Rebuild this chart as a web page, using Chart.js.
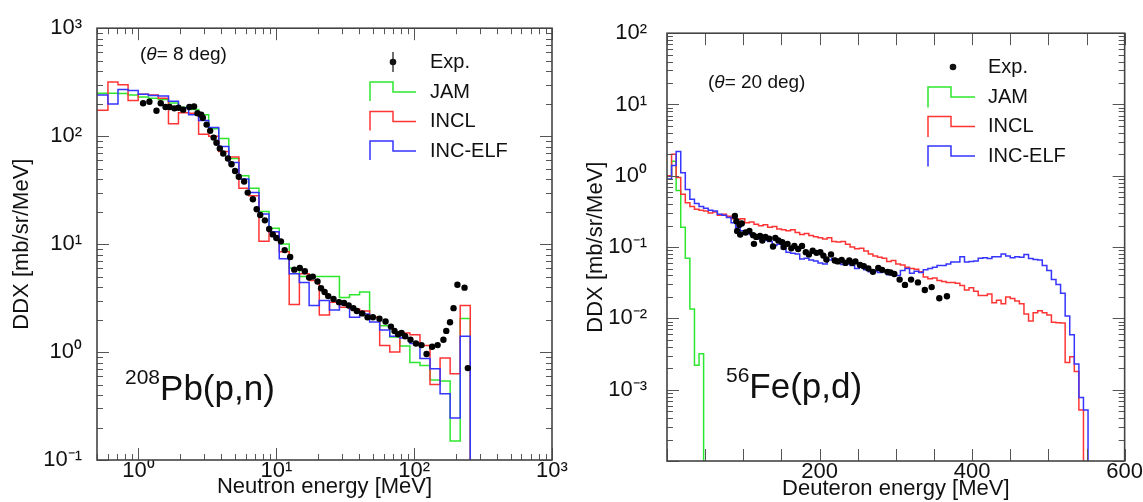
<!DOCTYPE html>
<html>
<head>
<meta charset="utf-8">
<script src="https://cdn.jsdelivr.net/npm/chart.js@4.4.1/dist/chart.umd.min.js"></script>
<style>
  html, body { margin: 0; padding: 0; background: #fff; }
  #wrap { position: relative; width: 1143px; height: 502px; }
  canvas { position: absolute; top: 0; }
</style>
</head>
<body>
<div id="wrap">
  <canvas id="pb" width="575" height="502" style="left:0"></canvas>
  <canvas id="fe" width="568" height="502" style="left:575px"></canvas>
</div>
<script>
const FONT = '"Liberation Sans", Arial, Helvetica, sans-serif';
const GREEN = '#2ee62e', RED = '#ff3535', BLUE = '#3535ff';
const FLOOR = 1e-9; // below the axis: closes the last bin

// ---- 208Pb(p,n), theta = 8 deg : bin edges [MeV] and DDX [mb/sr/MeV] ----
const pbEdges = [0.43, 0.51, 0.60, 0.71, 0.84, 0.995, 1.18, 1.39, 1.65, 1.95, 2.31, 2.73, 3.23,
  3.82, 4.52, 5.35, 6.32, 7.48, 8.85, 10.5, 12.4, 14.7, 17.3, 20.5, 24.3, 28.7, 34.0,
  40.2, 47.5, 56.2, 66.5, 78.7, 93.1, 110.2, 130.3, 154.2, 182.4, 215.8, 255.3];
const pbJAM = [250, 250, 250, 248, 240, 230, 225, 218, 203, 185, 177, 158, 117, 95, 62, 43, 33, 20, 14, 10,
  6.0, 5.0, 5.0, 5.0, 5.0, 3.2, 3.4, 3.6, 2.1, 1.75, 1.38, 1.14, 0.8, 0.75, 0.55, 0.54, 0.15, 2.05];
const pbINCL = [174, 174, 318, 300, 214, 245, 240, 225, 130, 165, 163, 104, 100, 72, 64, 33, 28, 10.6, 13, 8.5,
  2.75, 5.3, 4.6, 2.2, 2.9, 2.6, 2.5, 2.4, 2.1, 1.15, 1.0, 1.5, 1.45, 1.15, 0.5, 0.88, 0.63, 2.7];
const pbELF = [240, 240, 198, 270, 265, 245, 238, 236, 210, 183, 158, 140, 120, 80, 57, 40, 30, 19, 13, 7.3,
  5.3, 4.4, 2.7, 3.0, 2.45, 2.75, 2.1, 2.25, 1.9, 1.6, 1.4, 1.35, 1.2, 0.87, 0.70, 0.41, 0.245, 1.4];
const pbExpE = [1.08, 1.20, 1.35, 1.45, 1.57, 1.68, 1.82, 1.95, 2.11, 2.34, 2.53, 2.68, 2.85, 2.93, 3.12, 3.31,
  3.51, 3.68, 3.89, 4.12, 4.46, 4.73, 5.02, 5.34, 5.84, 6.2, 6.76, 7.2, 7.64, 8.26, 8.88, 9.42, 10.0, 10.8,
  11.5, 12.6, 13.5, 14.8, 16.1, 17.3, 18.4, 19.9, 21.1, 22.4, 23.8, 26.0, 28.5, 31.0, 33.5, 36.2, 38.4, 42.0,
  45.9, 50.2, 56, 62, 67.8, 72, 76.4, 81, 86, 94, 103, 113, 123, 135, 148, 163, 171, 182, 193, 206, 232, 245];
const pbExpV = [202, 208, 172, 202, 186, 186, 181, 183, 176, 186, 188, 163, 158, 148, 128, 112, 97, 87, 77, 69,
  62, 55, 47.5, 42, 38, 30, 26, 21, 18.6, 16.6, 13.8, 12.3, 11.4, 10.6, 8.8, 7.6, 5.8, 6.0, 5.6, 4.9, 5.0, 4.5,
  3.9, 3.6, 3.3, 3.1, 2.9, 2.85, 2.7, 2.55, 2.4, 2.28, 2.1, 2.1, 2.04, 1.92, 1.72, 1.57, 1.46, 1.5, 1.4, 1.3,
  1.2, 1.16, 0.96, 1.12, 1.16, 1.3, 1.57, 1.89, 2.55, 4.2, 3.95, 0.71];
const pbXTicks = [1, 10, 100, 1000];
const pbYTicks = [0.1, 1, 10, 100, 1000];

// ---- 56Fe(p,d), theta = 20 deg ----
const feEdges = [0, 6, 12, 18, 24, 30, 36, 42, 48, 54, 60, 66, 72, 78, 84, 90, 96, 102, 108, 114, 120, 126,
  132, 138, 144, 150, 156, 162, 168, 174, 180, 186, 192, 198, 204, 210, 216, 222, 228, 234, 240, 246, 252,
  258, 264, 270, 276, 282, 288, 294, 300, 306, 312, 318, 324, 330, 336, 342, 348, 354, 360, 366, 372, 378,
  384, 390, 396, 402, 408, 414, 420, 426, 432, 438, 444, 450, 456, 462, 468, 474, 480, 486, 492, 498, 504,
  510, 516, 522, 528, 534, 540, 546, 552];
const feJAM = [1.0, 1.6, 0.62, 0.19, 0.07, 0.0135, 0.0022, 0.0032];
const feINCL = [1.0, 2.0, 0.95, 0.55, 0.42, 0.37, 0.34, 0.33, 0.32, 0.30,
  0.31, 0.28, 0.29, 0.27, 0.25, 0.245, 0.25, 0.22, 0.225, 0.21,
  0.20, 0.205, 0.19, 0.195, 0.18, 0.175, 0.17, 0.175, 0.16, 0.15,
  0.155, 0.145, 0.14, 0.135, 0.13, 0.135, 0.12, 0.118, 0.12, 0.11,
  0.10, 0.095, 0.096, 0.088, 0.08, 0.075, 0.072, 0.07, 0.063, 0.065,
  0.058, 0.056, 0.052, 0.05, 0.049, 0.045, 0.038, 0.036, 0.037, 0.034,
  0.033, 0.032, 0.032, 0.031, 0.029, 0.025, 0.027, 0.024, 0.021, 0.021,
  0.022, 0.0166, 0.018, 0.016, 0.02, 0.019, 0.0175, 0.016, 0.0115, 0.0092,
  0.012, 0.0128, 0.012, 0.0112, 0.0088, 0.0087, 0.0086, 0.0024, 0.0029, 0.0018,
  0.00052];
const feELF = [0.9, 1.4, 2.2, 1.1, 0.64, 0.47, 0.41, 0.37, 0.35, 0.33,
  0.32, 0.29, 0.28, 0.26, 0.22, 0.19, 0.17, 0.16, 0.15, 0.14,
  0.13, 0.125, 0.12, 0.105, 0.11, 0.095, 0.085, 0.082, 0.08, 0.068,
  0.07, 0.066, 0.064, 0.06, 0.058, 0.066, 0.069, 0.06, 0.057, 0.058,
  0.055, 0.05, 0.052, 0.048, 0.045, 0.046, 0.044, 0.045, 0.041, 0.043,
  0.04, 0.047, 0.05, 0.043, 0.046, 0.044, 0.048, 0.05, 0.052, 0.055,
  0.055, 0.058, 0.062, 0.062, 0.073, 0.062, 0.063, 0.064, 0.07, 0.071,
  0.069, 0.073, 0.073, 0.08, 0.075, 0.071, 0.073, 0.072, 0.079, 0.069,
  0.067, 0.066, 0.055, 0.047, 0.035, 0.03, 0.0225, 0.0108, 0.0059, 0.0023,
  0.00078, 0.00052];
const feExpE = [89, 91, 92, 95, 96, 98, 103, 108, 113, 114, 117, 122, 125, 129, 134, 139, 142, 146, 151, 153,
  158, 163, 167, 172, 177, 182, 186, 191, 196, 201, 205, 209, 215, 220, 224, 229, 234, 239, 243, 247, 253,
  258, 264, 270, 277, 282, 289, 293, 298, 305, 312, 320, 329, 338, 347, 357, 367];
const feExpV = [0.273, 0.23, 0.168, 0.206, 0.15, 0.215, 0.16, 0.168, 0.147, 0.111, 0.139, 0.143, 0.124, 0.139,
  0.131, 0.102, 0.134, 0.124, 0.117, 0.1, 0.111, 0.096, 0.104, 0.094, 0.104, 0.085, 0.079, 0.089, 0.083, 0.085,
  0.076, 0.067, 0.079, 0.065, 0.063, 0.066, 0.06, 0.065, 0.06, 0.063, 0.056, 0.054, 0.05, 0.045, 0.051, 0.048,
  0.045, 0.044, 0.042, 0.035, 0.0295, 0.035, 0.032, 0.025, 0.0275, 0.0192, 0.0204];
const feXTicks = [200, 400, 600];
const feYTicks = [0.001, 0.01, 0.1, 1, 10, 100];

// histogram: one point per bin at its low edge, closed at the last edge
function hist(edges, vals) {
  const p = vals.map((v, i) => ({x: edges[i], y: v}));
  p.push({x: edges[vals.length], y: FLOOR});
  return p;
}
function points(xs, ys) { return xs.map((x, i) => ({x: x, y: ys[i]})); }

const SUP = {'-': '\u207B', '0': '\u2070', '1': '\u00B9', '2': '\u00B2', '3': '\u00B3'};
function decade(v) {
  const p = Math.round(Math.log10(v));
  return '10' + String(p).split('').map(c => SUP[c]).join('');
}
function logMarks(min, max) {
  const out = [];
  for (let d = Math.floor(Math.log10(min)); d <= Math.ceil(Math.log10(max)); d++) {
    for (let m = 1; m <= 9; m++) {
      const v = m * Math.pow(10, d);
      if (v >= min * 0.999 && v <= max * 1.001) out.push({v: v, major: m === 1});
    }
  }
  return out;
}
function linMarks(min, max, step) {
  const out = [];
  for (let v = min; v <= max; v += step) out.push({v: v, major: true});
  return out;
}

// ROOT-like frame with inner ticks, legend and labels
const decor = {
  id: 'decor',
  afterDraw(chart, args, o) {
    const {ctx, chartArea: a, scales: {x, y}} = chart;
    ctx.save();
    ctx.strokeStyle = '#555';
    ctx.lineWidth = 1;
    ctx.beginPath();
    o.xMarks.forEach(m => {
      const px = Math.round(x.getPixelForValue(m.v)) + 0.5;
      const len = m.major ? o.majorLen : o.minorLen;
      ctx.moveTo(px, a.bottom); ctx.lineTo(px, a.bottom - len);
      ctx.moveTo(px, a.top); ctx.lineTo(px, a.top + len);
    });
    o.yMarks.forEach(m => {
      const py = Math.round(y.getPixelForValue(m.v)) + 0.5;
      const len = m.major ? o.majorLen : o.minorLen;
      ctx.moveTo(a.left, py); ctx.lineTo(a.left + len, py);
      ctx.moveTo(a.right, py); ctx.lineTo(a.right - len, py);
    });
    ctx.stroke();
    ctx.lineWidth = 1.6;
    ctx.strokeStyle = '#444';
    ctx.strokeRect(a.left, a.top, a.right - a.left, a.bottom - a.top);

    ctx.fillStyle = '#111';
    ctx.textBaseline = 'middle';
    // (theta= N deg)
    let tx = o.theta.x;
    ctx.font = '19px ' + FONT;
    ctx.fillText('(', tx, o.theta.y); tx += ctx.measureText('(').width;
    ctx.font = 'italic 19px ' + FONT;
    ctx.fillText('\u03B8', tx, o.theta.y); tx += ctx.measureText('\u03B8').width;
    ctx.font = '19px ' + FONT;
    ctx.fillText('= ' + o.theta.deg + ' deg)', tx, o.theta.y);

    // reaction
    ctx.textBaseline = 'alphabetic';
    let rx = o.reaction.x;
    ctx.font = '21px ' + FONT;
    ctx.fillText(o.reaction.mass, rx, o.reaction.y - 16); rx += ctx.measureText(o.reaction.mass).width;
    ctx.font = '35px ' + FONT;
    ctx.fillText(o.reaction.rest, rx, o.reaction.y);

    // legend
    const L = o.legend;
    ctx.textBaseline = 'middle';
    ctx.font = '20px ' + FONT;
    if (L.err) {
      ctx.strokeStyle = '#111'; ctx.lineWidth = 1.2;
      ctx.beginPath(); ctx.moveTo(L.xe, L.expY - 10); ctx.lineTo(L.xe, L.expY + 10); ctx.stroke();
    }
    ctx.beginPath(); ctx.arc(L.xe, L.expY, 3.3, 0, Math.PI * 2); ctx.fill();
    ctx.fillText('Exp.', L.tx, L.expY);
    L.rows.forEach(r => {
      ctx.strokeStyle = r.color; ctx.lineWidth = 1.5;
      ctx.beginPath();
      ctx.moveTo(L.x0, r.y + L.dn); ctx.lineTo(L.x0, r.y - L.up);
      ctx.lineTo(L.xs, r.y - L.up); ctx.lineTo(L.xs, r.y); ctx.lineTo(L.x1, r.y);
      ctx.stroke();
      ctx.fillText(r.label, L.tx, r.y);
    });
    ctx.restore();
  }
};

function histSet(label, color, data) {
  return {label: label, data: data, borderColor: color, borderWidth: 1.5, pointRadius: 0,
          stepped: true, fill: false, tension: 0};
}
function expSet(data) {
  return {label: 'Exp.', data: data, showLine: false, pointRadius: 3.2, pointBorderWidth: 0,
          pointBackgroundColor: '#000', pointBorderColor: '#000'};
}
function axis(type, min, max, ticks, title, size, titlePad, tickPad) {
  const horiz = size.height !== undefined;
  return {
    type: type, min: min, max: max,
    grid: {display: false, drawTicks: false},
    border: {display: false},
    afterBuildTicks: s => { s.ticks = ticks.map(v => ({value: v})); },
    afterFit: s => { if (horiz) s.height = size.height; else s.width = size.width; },
    ticks: {
      autoSkip: false, maxRotation: 0, padding: tickPad, color: '#111',
      font: {family: FONT, size: 22, lineHeight: horiz ? 1 : 1.2},
      callback: v => type === 'logarithmic' ? decade(v) : String(v)
    },
    title: {display: true, text: title, color: '#111', font: {family: FONT, size: 22}, padding: titlePad}
  };
}
function common(padRight, xAx, yAx, dec) {
  return {
    responsive: false, animation: false, events: [],
    layout: {padding: {left: 0, top: 22, right: padRight, bottom: 0}},
    scales: {x: xAx, y: yAx},
    plugins: {legend: {display: false}, tooltip: {enabled: false}, decor: dec}
  };
}

new Chart(document.getElementById('pb'), {
  type: 'line',
  plugins: [decor],
  data: {datasets: [
    expSet(points(pbExpE, pbExpV)),
    histSet('INC-ELF', BLUE, hist(pbEdges, pbELF)),
    histSet('INCL', RED, hist(pbEdges, pbINCL)),
    histSet('JAM', GREEN, hist(pbEdges, pbJAM))
  ]},
  options: common(23,
    axis('logarithmic', 0.5, 1000, pbXTicks, 'Neutron energy [MeV]', {height: 42}, {top: 0, bottom: 2}, 0),
    axis('logarithmic', 0.1, 1000, pbYTicks, 'DDX [mb/sr/MeV]', {width: 97}, {top: 9, bottom: 0}, 15),
    {
      xMarks: logMarks(0.5, 1000), yMarks: logMarks(0.1, 1000), majorLen: 12, minorLen: 6,
      theta: {x: 140, y: 55, deg: '8'},
      reaction: {x: 125, y: 400, mass: '208', rest: 'Pb(p,n)'},
      legend: {x0: 370, xs: 393, x1: 416, tx: 430, xe: 393, up: 10, dn: 9, err: true, expY: 62,
               rows: [{label: 'JAM', color: GREEN, y: 92}, {label: 'INCL', color: RED, y: 121.5},
                      {label: 'INC-ELF', color: BLUE, y: 151}]}
    })
});

new Chart(document.getElementById('fe'), {
  type: 'line',
  plugins: [decor],
  data: {datasets: [
    expSet(points(feExpE, feExpV)),
    histSet('INC-ELF', BLUE, hist(feEdges, feELF)),
    histSet('INCL', RED, hist(feEdges, feINCL)),
    histSet('JAM', GREEN, hist(feEdges, feJAM))
  ]},
  options: common(18,
    axis('linear', 0, 600, feXTicks, 'Deuteron energy [MeV]', {height: 41}, {top: 0, bottom: 0}, 0),
    axis('logarithmic', 0.0001, 100, feYTicks, 'DDX [mb/sr/MeV]', {width: 92}, {top: 8, bottom: 0}, 20),
    {
      xMarks: linMarks(0, 600, 50), yMarks: logMarks(0.0001, 100), majorLen: 12, minorLen: 6,
      theta: {x: 133, y: 83, deg: '20'},
      reaction: {x: 151, y: 398, mass: '56', rest: 'Fe(p,d)'},
      legend: {x0: 353, xs: 376, x1: 400, tx: 413, xe: 378, up: 10, dn: 10.5, err: false, expY: 67,
               rows: [{label: 'JAM', color: GREEN, y: 97}, {label: 'INCL', color: RED, y: 126.5},
                      {label: 'INC-ELF', color: BLUE, y: 156}]}
    })
});
</script>
</body>
</html>
